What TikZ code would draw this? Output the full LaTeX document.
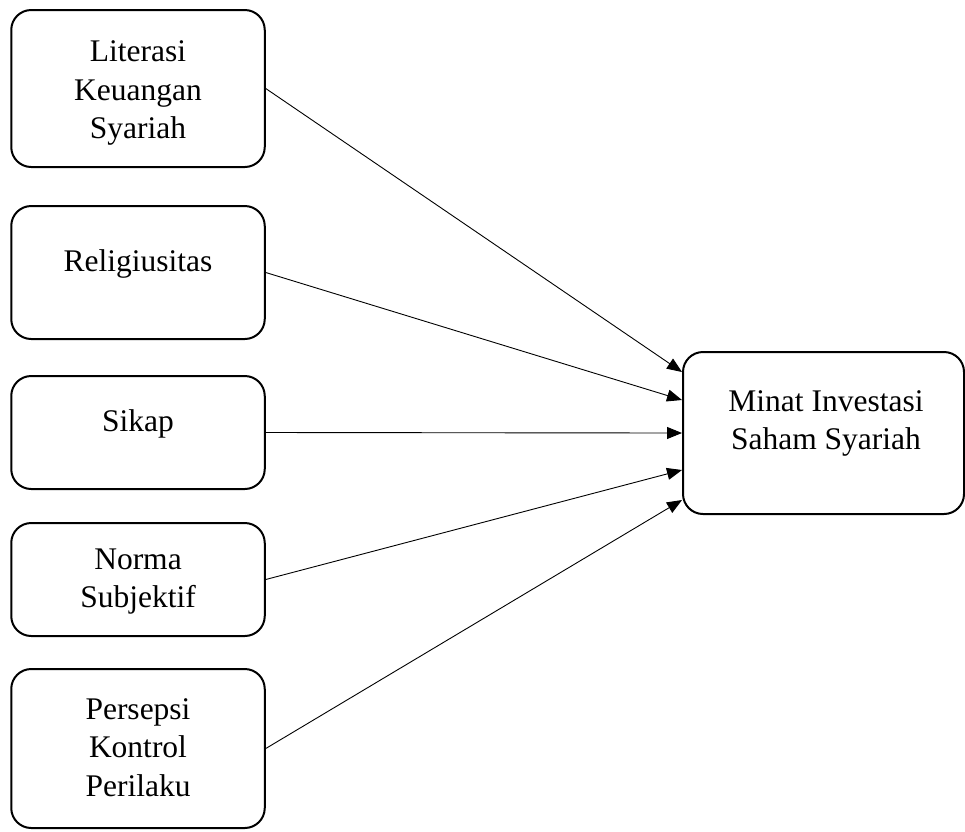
\documentclass[tikz,border=0pt]{standalone}
\usepackage{fontspec}
\setmainfont{Liberation Serif}
\usetikzlibrary{arrows.meta}
\begin{document}
\begin{tikzpicture}[x=1pt,y=-1pt,
  varbox/.style={draw, line width=2pt, rounded corners=20pt, inner sep=0pt, minimum width=253.5pt},
  lbl/.style={align=center, inner sep=0pt, font=\fontsize{31.5}{38.5}\selectfont},
  conn/.style={line width=0.9pt, -{Triangle[length=15pt,width=12pt]}}]
\useasboundingbox (0,0) rectangle (965,831);
% left boxes
\node[varbox, minimum height=157pt] (b1) at (138,88.5) {};
\node[varbox, minimum height=133pt] (b2) at (138,272.5) {};
\node[varbox, minimum height=113pt] (b3) at (138,432.5) {};
\node[varbox, minimum height=113pt] (b4) at (138,579.5) {};
\node[varbox, minimum height=159pt] (b5) at (138,748.5) {};
% right box
\node[draw, line width=2pt, rounded corners=20pt, inner sep=0pt, minimum width=281pt, minimum height=162pt] (m) at (823.5,433) {};
% labels
\node[lbl] (t1) at (138,93.4) {Literasi\\Keuangan\\Syariah};
\node[lbl] (t2) at (138,264.4) {Religiusitas};
\node[lbl] (t3) at (138,424.4) {Sikap};
\node[lbl] (t4) at (138,581.5) {Norma\\Subjektif};
\node[lbl] (t5) at (138,747.3) {Persepsi\\Kontrol\\Perilaku};
\node[lbl] (tm) at (826,423.7) {Minat Investasi\\Saham Syariah};
% targets
\path (m.west) ++(0,-61) coordinate (e1);
\path (m.west) ++(0,-33) coordinate (e2);
\path (m.west) ++(0,0) coordinate (e3);
\path (m.west) ++(0,37) coordinate (e4);
\path (m.west) ++(0,67) coordinate (e5);
\draw[conn] (b1.east) -- (e1);
\draw[conn] (b2.east) -- (e2);
\draw[conn] (b3.east) -- (e3);
\draw[conn] (b4.east) -- (e4);
\draw[conn] (b5.east) -- (e5);
\end{tikzpicture}
\end{document}
